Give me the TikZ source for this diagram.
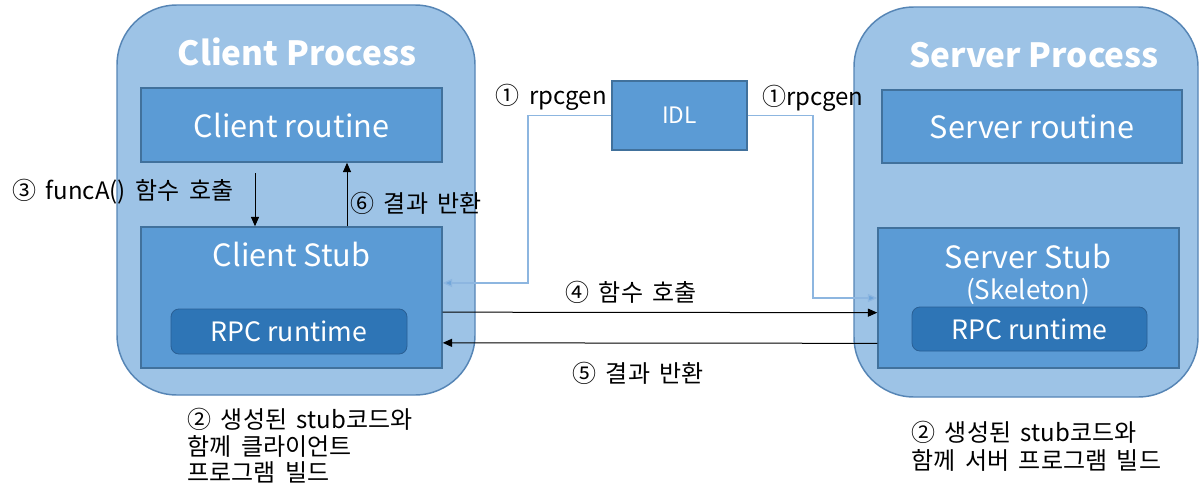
\documentclass[tikz,border=0pt]{standalone}
\usepackage{fontspec}
\setmainfont{Noto Sans CJK KR}
\newfontfamily\notefont[WordSpace=1.8]{Noto Sans CJK KR}
\usetikzlibrary{arrows.meta}
\definecolor{procfill}{HTML}{9DC3E6}
\definecolor{procline}{HTML}{5685B5}
\definecolor{boxfill}{HTML}{5B9BD5}
\definecolor{boxline}{HTML}{41719C}
\definecolor{rtfill}{HTML}{2E75B6}
\definecolor{rtline}{HTML}{2A5F94}
\definecolor{genline}{HTML}{8DB6E0}
\definecolor{gentip}{HTML}{6FA5DA}
\tikzset{
  x=0.75pt, y=-0.75pt,
  process/.style={draw=procline, fill=procfill, line width=1.1pt, rounded corners=45pt, inner sep=0pt},
  block/.style={draw=boxline, fill=boxfill, line width=1.1pt, inner sep=0pt, text=white, font=\fontsize{23}{26}\selectfont},
  runtime/.style={draw=rtline, fill=rtfill, line width=0.6pt, rounded corners=6pt, inner sep=0pt, text=white, font=\fontsize{20}{23}\selectfont},
  title/.style={text=white, font=\bfseries\fontsize{25}{28}\selectfont},
  boxtext/.style={text=white, font=\fontsize{23}{26}\selectfont},
  note/.style={text=black, font=\notefont\fontsize{18}{20}\selectfont, inner sep=0pt},
  call/.style={draw=black, line width=0.75pt, -{Triangle[length=7pt,width=6pt]}},
  gen/.style={draw=genline, line width=0.9pt, -{Triangle[length=7pt,width=6pt,fill=gentip]}},
}
\begin{document}
\begin{tikzpicture}
\useasboundingbox (0,0) rectangle (1199,492);

% client side
\node[process, minimum width=268.5pt, minimum height=292.5pt] (cproc) at (296,200) {};
\node[title] (ctitle) at (297,52) {Client Process};
\node[block, minimum width=225.75pt, minimum height=55.5pt] (croutine) at (291.5,125) {Client routine};
\node[block, minimum width=225.75pt, minimum height=105.75pt] (cstub) at (291.5,297.5) {};
\node[boxtext] (cstubt) at (291.5,254) {Client Stub};
\node[runtime, minimum width=177pt, minimum height=33.75pt] (crt) at (289,331.5) {RPC runtime};

% server side
\node[process, minimum width=258pt, minimum height=292.5pt] (sproc) at (1026,202) {};
\node[title] (stitle) at (1034,55) {Server Process};
\node[block, minimum width=225pt, minimum height=54.75pt] (sroutine) at (1032,126.5) {Server routine};
\node[block, minimum width=225.75pt, minimum height=105pt] (sstub) at (1028.5,298) {};
\node[boxtext] (sstubt) at (1028,256) {Server Stub};
\node[boxtext, font=\fontsize{19.5}{22}\selectfont] (sskel) at (1028,291) {(Skeleton)};
\node[runtime, minimum width=176.25pt, minimum height=33pt] (srt) at (1029.5,329) {RPC runtime};

% interface definition
\node[block, minimum width=101.25pt, minimum height=51.75pt, font=\fontsize{17}{20}\selectfont] (idl) at (679.5,115.5) {IDL};

% rpcgen output paths
\coordinate (gl) at (528,283);
\coordinate (gr) at (813,298);
\draw[gen] (idl.west) -| (gl) -- (cstub.east |- gl);
\draw[gen] (idl.east) -| (gr) -- (sstub.west |- gr);

% local call and return inside the client
\coordinate (dn) at (255,173);
\coordinate (up) at (347,0);
\draw[call] (dn) -- (dn |- cstub.north);
\draw[call] (cstub.north -| up) -- (croutine.south -| up);

% remote call and result
\draw[call] ([yshift=-11pt]cstub.east) -- ([yshift=-11pt]sstub.west);
\draw[call] ([yshift=-34pt]sstub.west) -- ([yshift=-34pt]cstub.east);

% labels
\node[note, anchor=east] (l1a) at (607,97) {① rpcgen};
\node[note, anchor=west] (l3) at (12,192) {③ funcA() 함수 호출};
\node[note, anchor=west] (l6) at (350,203) {⑥ 결과 반환};
\node[note, anchor=west] (l1b) at (762,98) {①rpcgen};
\node[note, anchor=west] (l4) at (565,292) {④ 함수 호출};
\node[note, anchor=west] (l5) at (572,373) {⑤ 결과 반환};
\node[note, anchor=north west, align=left] (b1) at (187,408) {② 생성된 stub코드와\\함께 클라이언트\\프로그램 빌드};
\node[note, anchor=north west, align=left, font=\notefont\fontsize{18}{21}\selectfont] (b2) at (911,421) {② 생성된 stub코드와\\함께 서버 프로그램 빌드};
\end{tikzpicture}
\end{document}
